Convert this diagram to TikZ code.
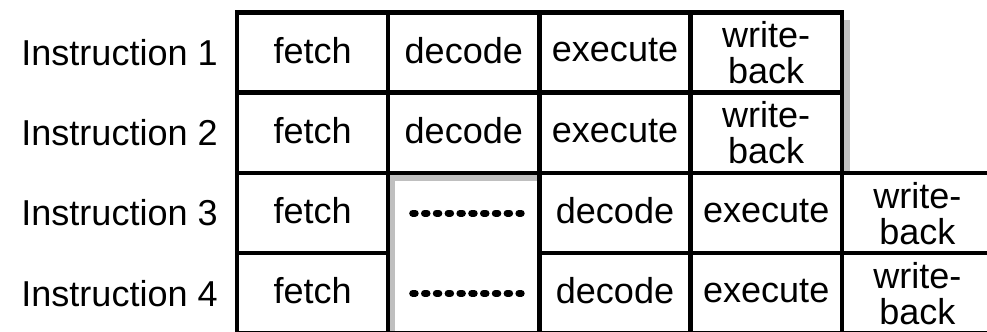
\documentclass[tikz,border=0pt]{standalone}
\usepackage{fontspec}
\setmainfont{Liberation Sans}
\usetikzlibrary{positioning,calc,backgrounds}

\begin{document}
\begin{tikzpicture}[
  node distance=0pt and 0pt,
  every node/.style={font=\fontsize{20.5}{20.5}\selectfont},
  cell/.style={draw,rectangle,line width=0.09cm,minimum width=3.024cm,
               minimum height=1.605cm,inner sep=0pt,outer sep=0pt,
               text depth=0.1cm},
  wbcell/.style={cell,text depth=0pt,align=center},
  stallcell/.style={cell,minimum height=3.21cm},
  rowlbl/.style={inner sep=0pt,left=0.38cm of #1},
  shade/.style={fill=black!25},
  bubble/.style={line width=0.14cm,line cap=round,
                 dash pattern=on 0.05cm off 0.186cm}
]
\clip (0,0) rectangle (19.74,6.64);

% first two instructions run straight through the pipeline
\node[cell,anchor=north west] (f1) at (4.74,6.39) {fetch};
\node[cell,right=of f1]       (d1) {decode};
\node[cell,right=of d1]       (e1) {execute};
\node[wbcell,right=of e1]     (w1) {write-\\back};
\node[cell,below=of f1]       (f2) {fetch};
\node[cell,below=of d1]       (d2) {decode};
\node[cell,below=of e1]       (e2) {execute};
\node[wbcell,below=of w1]     (w2) {write-\\back};

% the last two wait one stage (one box over both rows)
\node[cell,below=of f2]                     (f3) {fetch};
\node[stallcell,anchor=north west]          (st) at (f3.north east) {};
\node[cell,anchor=north west]               (d3) at (st.north east) {decode};
\node[cell,right=of d3]                     (e3) {execute};
\node[wbcell,right=of e3]                   (w3) {write-\\back};
\node[cell,below=of f3]                     (f4) {fetch};
\node[cell,below=of d3]                     (d4) {decode};
\node[cell,below=of e3]                     (e4) {execute};
\node[wbcell,below=of w3]                   (w4) {write-\\back};

\foreach \k in {1,...,4}
  \node[rowlbl=f\k] (i\k) {Instruction \k};

\draw[bubble] ($(f3.east)+(0.49,0)$) -- ++(2.17,0);
\draw[bubble] ($(f4.east)+(0.49,0)$) -- ++(2.17,0);

% grey shadows
\begin{scope}[on background layer]
  \fill[shade] ($(w1.north east)+(0,-0.15)$) rectangle ($(w2.south east)+(0.16,0)$);
  \fill[shade] (st.north west) rectangle ($(st.north east)+(0,-0.17)$);
  \fill[shade] (st.north west) rectangle ($(st.south west)+(0.14,0)$);
\end{scope}
\end{tikzpicture}
\end{document}
